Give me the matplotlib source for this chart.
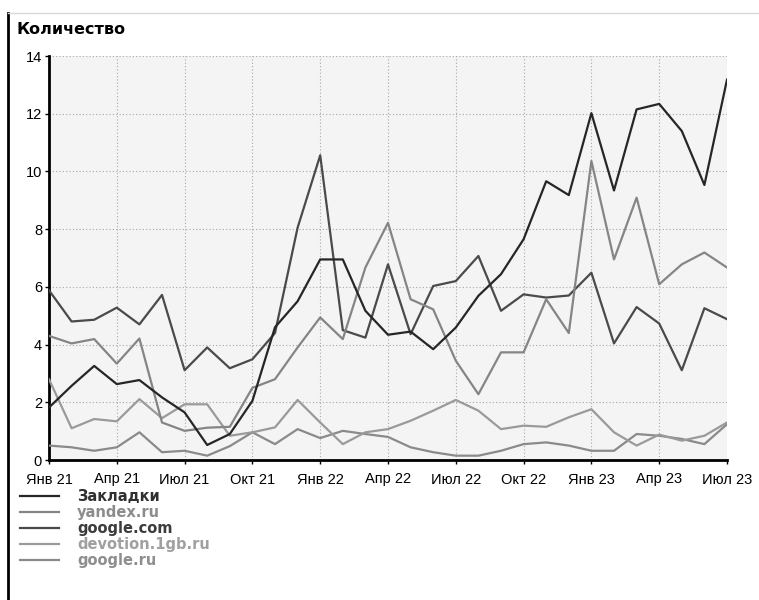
import matplotlib
matplotlib.use("Agg")
import matplotlib.pyplot as plt
from matplotlib.lines import Line2D
import numpy as np

plt.rcParams['font.family'] = ['Liberation Sans', 'DejaVu Sans']

# monthly values, Jan 2021 .. Jul 2023
months = ["Янв 21", "Фев 21", "Мар 21", "Апр 21", "Май 21", "Июн 21", "Июл 21", "Авг 21",
          "Сен 21", "Окт 21", "Ноя 21", "Дек 21", "Янв 22", "Фев 22", "Мар 22", "Апр 22",
          "Май 22", "Июн 22", "Июл 22", "Авг 22", "Сен 22", "Окт 22", "Ноя 22", "Дек 22",
          "Янв 23", "Фев 23", "Мар 23", "Апр 23", "Май 23", "Июн 23", "Июл 23"]

zakladki = [1.82, 2.57, 3.26, 2.63, 2.77, 2.17, 1.65, 0.52, 0.90, 2.05, 4.60, 5.50, 6.95,
            6.95, 5.17, 4.34, 4.45, 3.84, 4.59, 5.69, 6.44, 7.65, 9.66, 9.18, 12.02, 9.34,
            12.15, 12.34, 11.40, 9.53, 13.18]
yandex = [4.30, 4.04, 4.19, 3.34, 4.21, 1.30, 1.01, 1.12, 1.15, 2.50, 2.80, 3.90, 4.94,
          4.19, 6.67, 8.22, 5.57, 5.22, 3.44, 2.28, 3.73, 3.73, 5.57, 4.40, 10.36, 6.95,
          9.09, 6.09, 6.78, 7.19, 6.67]
google_com = [5.88, 4.80, 4.86, 5.28, 4.70, 5.72, 3.11, 3.90, 3.18, 3.49, 4.40, 8.05, 10.56,
              4.50, 4.24, 6.78, 4.36, 6.03, 6.20, 7.07, 5.17, 5.74, 5.63, 5.70, 6.49, 4.04,
              5.30, 4.73, 3.11, 5.26, 4.88]
devotion = [2.80, 1.10, 1.42, 1.34, 2.11, 1.45, 1.93, 1.93, 0.84, 0.96, 1.13, 2.08, 1.30,
            0.55, 0.96, 1.07, 1.36, 1.71, 2.08, 1.71, 1.07, 1.19, 1.15, 1.48, 1.76, 0.96,
            0.50, 0.88, 0.67, 0.84, 1.30]
google_ru = [0.50, 0.44, 0.32, 0.44, 0.96, 0.27, 0.32, 0.15, 0.48, 0.96, 0.55, 1.07, 0.76,
             1.01, 0.90, 0.80, 0.44, 0.27, 0.15, 0.15, 0.32, 0.55, 0.61, 0.50, 0.32, 0.32,
             0.90, 0.84, 0.73, 0.55, 1.24]

series = [("Закладки", zakladki, "#262626", "#303030"),
          ("yandex.ru", yandex, "#858585", "#8c8c8c"),
          ("google.com", google_com, "#4a4a4a", "#3c3c3c"),
          ("devotion.1gb.ru", devotion, "#9a9a9a", "#a0a0a0"),
          ("google.ru", google_ru, "#8a8a8a", "#8e8e8e")]

W, H = 759, 600
fig = plt.figure(figsize=(W / 100, H / 100), dpi=100)

# frame lines of the page
fig.add_artist(Line2D([8 / W, 8 / W], [0, 1 - 13 / H], color="black", lw=2))
fig.add_artist(Line2D([8 / W, 1], [1 - 13 / H, 1 - 13 / H], color="#d8d8d8", lw=1))

ax = fig.add_axes([49 / W, 1 - 460 / H, (727 - 49) / W, (460 - 56) / H])
ax.set_facecolor("#f4f4f4")

x = np.arange(len(months))
# draw in reverse so the dark lines sit on top
for name, vals, col, _ in series[::-1]:
    ax.plot(x, vals, color=col, lw=1.6, zorder=3)

ax.set_xlim(0, len(months) - 1)
ax.set_ylim(0, 14)
ax.set_yticks(np.arange(0, 15, 2))
ax.set_xticks(x[::3])
ax.set_xticklabels(months[::3])
ax.tick_params(axis="both", labelsize=10.5, length=3, width=1, color="black", pad=2)
ax.tick_params(axis="x", pad=6)
ax.grid(True, color="#a8a8a8", linestyle=(0, (1, 2)), lw=0.8)
for s in ["top", "right"]:
    ax.spines[s].set_visible(False)
for s in ["left", "bottom"]:
    ax.spines[s].set_linewidth(2)

fig.text(17 / W, 1 - 30 / H, "Количество", fontsize=11.5, fontweight="bold",
         family="DejaVu Sans", va="center")

handles = [Line2D([], [], color=c, lw=1.6) for _, _, c, _ in series]
leg = fig.legend(handles, [s[0] for s in series], loc="upper left",
                 bbox_to_anchor=(20 / W, 1 - 489 / H), frameon=False,
                 prop={"family": "DejaVu Sans", "weight": "bold", "size": 10.5},
                 handlelength=2.7, handletextpad=1.2, labelspacing=0.07,
                 borderaxespad=0, borderpad=0)
for t, (_, _, _, tc) in zip(leg.get_texts(), series):
    t.set_color(tc)

fig.savefig("out.png", dpi=100, facecolor="white")
